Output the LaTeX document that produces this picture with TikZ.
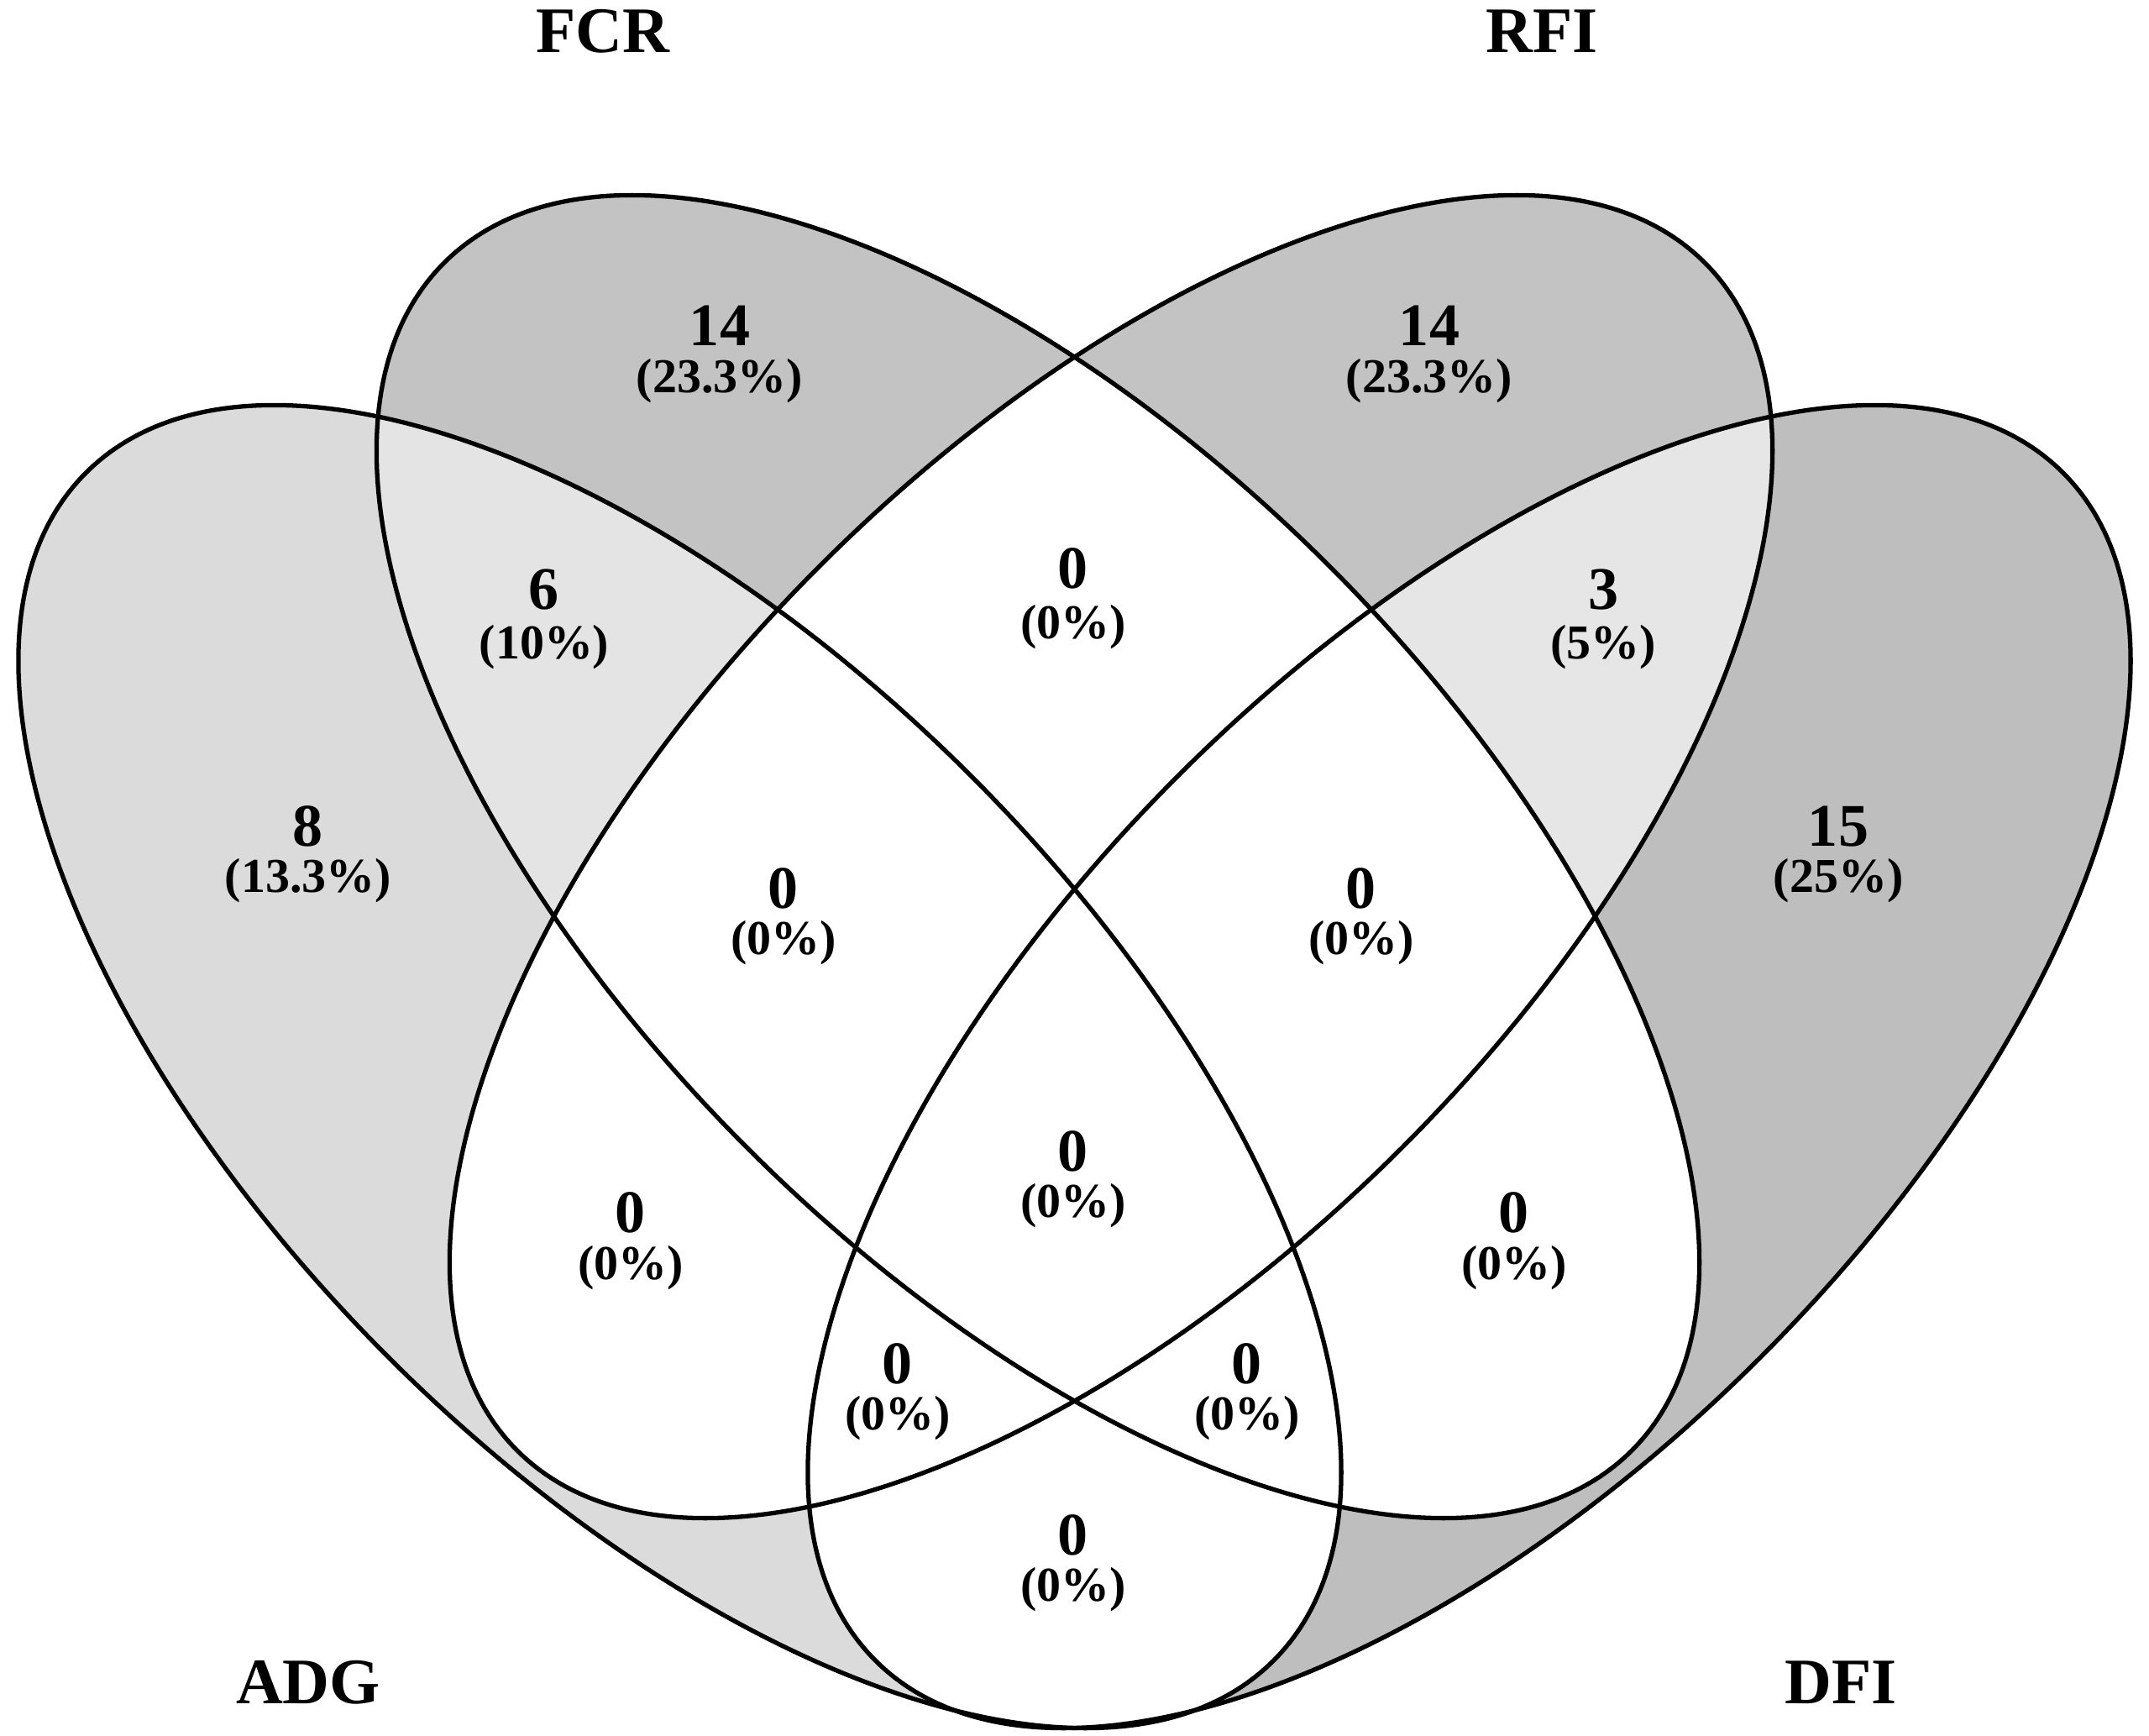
\documentclass[tikz,border=0pt]{standalone}
\usepackage{fontspec}
\setmainfont{Liberation Serif}
\begin{document}
\begin{tikzpicture}[
  num/.style={font=\fontsize{20.5}{24}\selectfont\bfseries, inner sep=0pt},
  pct/.style={font=\fontsize{16.5}{19}\selectfont\bfseries, inner sep=0pt},
  lab/.style={font=\fontsize{22}{26}\selectfont\bfseries, inner sep=0pt},
  adgE/.style={rotate around={-45:(8.095,-12.70)}},
  fcrE/.style={rotate around={-45:(12.36,-10.20)}},
  rfiE/.style={rotate around={45:(13.23,-10.20)}},
  dfiE/.style={rotate around={45:(17.495,-12.70)}},
  outline/.style={draw=black, line width=1.5pt}
]
\useasboundingbox (0,0) rectangle (25.59,-20.67);
\fill[white] (0,0) rectangle (25.59,-20.67);
\def\RA{10.0}
\def\RB{4.9}
% single-set fills
\fill[adgE, fill={rgb,255:red,219;green,219;blue,219}] (8.095,-12.70) ellipse [x radius=\RA, y radius=\RB];
\fill[dfiE, fill={rgb,255:red,190;green,190;blue,190}] (17.495,-12.70) ellipse [x radius=\RA, y radius=\RB];
\fill[fcrE, fill={rgb,255:red,195;green,195;blue,195}] (12.36,-10.20) ellipse [x radius=\RA, y radius=\RB];
\fill[rfiE, fill={rgb,255:red,195;green,195;blue,195}] (13.23,-10.20) ellipse [x radius=\RA, y radius=\RB];
% ADG & FCR
\begin{scope}
  \clip[adgE] (8.095,-12.70) ellipse [x radius=\RA, y radius=\RB];
  \fill[fcrE, fill={rgb,255:red,228;green,228;blue,228}] (12.36,-10.20) ellipse [x radius=\RA, y radius=\RB];
\end{scope}
% RFI & DFI
\begin{scope}
  \clip[dfiE] (17.495,-12.70) ellipse [x radius=\RA, y radius=\RB];
  \fill[rfiE, fill={rgb,255:red,230;green,230;blue,230}] (13.23,-10.20) ellipse [x radius=\RA, y radius=\RB];
\end{scope}
% white pairs
\begin{scope}
  \clip[adgE] (8.095,-12.70) ellipse [x radius=\RA, y radius=\RB];
  \fill[rfiE, white] (13.23,-10.20) ellipse [x radius=\RA, y radius=\RB];
  \fill[dfiE, white] (17.495,-12.70) ellipse [x radius=\RA, y radius=\RB];
\end{scope}
\begin{scope}
  \clip[fcrE] (12.36,-10.20) ellipse [x radius=\RA, y radius=\RB];
  \fill[rfiE, white] (13.23,-10.20) ellipse [x radius=\RA, y radius=\RB];
  \fill[dfiE, white] (17.495,-12.70) ellipse [x radius=\RA, y radius=\RB];
\end{scope}
% outlines
\draw[adgE, outline] (8.095,-12.70) ellipse [x radius=\RA, y radius=\RB];
\draw[fcrE, outline] (12.36,-10.20) ellipse [x radius=\RA, y radius=\RB];
\draw[rfiE, outline] (13.23,-10.20) ellipse [x radius=\RA, y radius=\RB];
\draw[dfiE, outline] (17.495,-12.70) ellipse [x radius=\RA, y radius=\RB];
% category labels
\node[lab] (lFCR) at (7.18,-0.37) {FCR};
\node[lab] (lRFI) at (18.36,-0.37) {RFI};
\node[lab] (lADG) at (3.67,-20.03) {ADG};
\node[lab] (lDFI) at (21.92,-20.03) {DFI};
% counts
\node[num] (n1) at (8.57,-3.88) {14};      \node[pct] (p1) at (8.57,-4.54) {(23.3\%)};
\node[num] (n2) at (17.02,-3.88) {14};     \node[pct] (p2) at (17.02,-4.54) {(23.3\%)};
\node[num] (n3) at (6.48,-7.02) {6};       \node[pct] (p3) at (6.48,-7.71) {(10\%)};
\node[num] (n4) at (12.78,-6.77) {0};      \node[pct] (p4) at (12.78,-7.47) {(0\%)};
\node[num] (n5) at (19.09,-7.02) {3};      \node[pct] (p5) at (19.09,-7.71) {(5\%)};
\node[num] (n6) at (3.67,-9.84) {8};       \node[pct] (p6) at (3.67,-10.49) {(13.3\%)};
\node[num] (n7) at (9.33,-10.58) {0};      \node[pct] (p7) at (9.33,-11.23) {(0\%)};
\node[num] (n8) at (16.21,-10.58) {0};     \node[pct] (p8) at (16.21,-11.23) {(0\%)};
\node[num] (n9) at (21.89,-9.84) {15};     \node[pct] (p9) at (21.89,-10.49) {(25\%)};
\node[num] (n10) at (12.78,-13.71) {0};    \node[pct] (p10) at (12.78,-14.36) {(0\%)};
\node[num] (n11) at (7.51,-14.44) {0};     \node[pct] (p11) at (7.51,-15.10) {(0\%)};
\node[num] (n12) at (18.03,-14.44) {0};    \node[pct] (p12) at (18.03,-15.10) {(0\%)};
\node[num] (n13) at (10.69,-16.24) {0};    \node[pct] (p13) at (10.69,-16.89) {(0\%)};
\node[num] (n14) at (14.85,-16.24) {0};    \node[pct] (p14) at (14.85,-16.89) {(0\%)};
\node[num] (n15) at (12.78,-18.28) {0};    \node[pct] (p15) at (12.78,-18.93) {(0\%)};
\end{tikzpicture}
\end{document}
